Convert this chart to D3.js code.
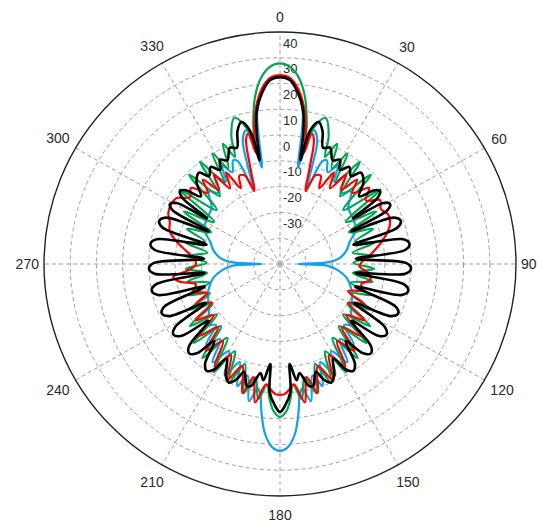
<!DOCTYPE html>
<html><head><meta charset="utf-8">
<script src="https://cdn.jsdelivr.net/npm/d3@7"></script>
<style>body{margin:0;background:#fff}svg{display:block}</style>
</head><body>
<svg id="chart" width="542" height="523"></svg>
<script>
const angleTicks = [0,30,60,90,120,150,180,210,240,270,300,330];
const ringValues = [-40,-30,-20,-10,0,10,20,30];
const ringLabels = [40,30,20,10,0,-10,-20,-30];
const radialDomain = [-50,40];

const blackPattern = [[0,22.5],[3,21.5],[6,16.5],[8.5,10],[10,1],[11,-9],[12.5,3],[15,7],[17.5,4],[20,-2],[23,-1],[26.5,-5],[29.5,-3.5],[32,-7],[35,-4],[38.5,-6.5],[41,-3],[45,-5],[49,-10],[51.5,-4],[53.5,-2.5],[55.5,-5],[57.5,-17],[59,-4],[61,-2],[63,-4],[65,-20],[67.5,-3],[70,-1],[72.5,-3],[75,-21],[78.5,-2],[81,0],[83.5,-2],[86,-21],[89.5,-2],[92,0],[94.5,-2],[97,-21],[99.5,-2],[102,0],[104.5,-2],[107,-20],[110.5,-3],[113,-1],[115.5,-3],[118,-18],[121.5,-3],[124,-1],[126.5,-3],[129,-15],[132.5,-3],[135,-1],[137.5,-3],[140,-11],[143.5,-2],[146,0],[148.5,-2],[151,-8],[154.5,-2],[157,0],[159.5,-2],[162,-6],[165,-1],[167,-1.5],[170,-7],[172,-4.5],[174.5,-11],[175.5,0],[178,5],[180,7.4],[182,5],[184.5,0],[185.5,-11],[188,-4.5],[190,-7],[193,-1.5],[195,-1],[198,-6],[200.5,-2],[203,0],[205.5,-2],[209,-8],[211.5,-2],[214,0],[216.5,-2],[220,-11],[222.5,-3],[225,-1],[227.5,-3],[231,-15],[233.5,-3],[236,-1],[238.5,-3],[242,-18],[244.5,-3],[247,-1],[249.5,-3],[253,-20],[255.5,-2],[258,0],[260.5,-2],[263,-21],[265.5,-2],[268,0],[270.5,-2],[274,-21],[276.5,-2],[279,0],[281.5,-2],[285,-21],[287.5,-3],[290,-1],[292.5,-3],[295,-20],[297,-4],[299,-2],[301,-4],[302.5,-17],[304.5,-5],[306.5,-2.5],[308.5,-4],[311,-10],[315,-5],[319,-3],[321.5,-6.5],[325,-4],[328,-7],[330.5,-3.5],[333.5,-5],[337,-1],[340,-2],[342.5,4],[345,7],[347.5,3],[349,-9],[350,1],[351.5,10],[354,16.5],[357,21.5]];

const bluePattern = [[0,23],[3,22],[6,17],[8.5,9],[10.5,-12],[12,0],[14,3.5],[16.5,0],[19.5,-18],[22,-7],[24,-6],[27,-10],[30,-6],[33,-12],[36,-8],[40,-14],[44,-11],[50,-16],[57,-17],[65,-18],[72,-22],[78,-24],[84,-27],[88,-32],[90,-43],[92,-32],[96,-28],[102,-24],[110,-21],[118,-19],[125,-17],[130,-13],[134,-16],[138,-8],[142,-13],[146,-4],[150,-11],[154,-2],[158,-9],[161,0],[164,-5],[167.5,4.5],[170,-1],[171.5,1],[173,8],[175,16],[177.5,21],[180,22.5],[182.5,21],[185,16],[187,8],[188.5,1],[190,-1],[192.5,4.5],[196,-5],[199,0],[202,-9],[206,-2],[210,-11],[214,-4],[218,-13],[222,-8],[226,-16],[230,-13],[235,-17],[242,-19],[250,-21],[258,-24],[264,-28],[268,-32],[270,-43],[272,-32],[276,-27],[282,-24],[288,-22],[295,-18],[303,-17],[310,-16],[316,-11],[320,-14],[324,-8],[327,-12],[330,-6],[333,-10],[336,-6],[338,-7],[340.5,-18],[343.5,0],[346,3.5],[348,0],[349.5,-12],[351.5,9],[354,17],[357,22]];

const redPattern = [[0,23.3],[3,22.3],[6,18],[9,10],[11,1],[12,-6],[13.5,2],[15,0],[17,-12],[19,-20],[21.5,-13],[24.5,-12.5],[27,-17],[30,-9],[33,-15],[36,-7],[39,-13],[42,-6],[45,-11],[49,-5],[53,-9],[57,-4.5],[61,-6],[65,-4.5],[69,-5],[73,-7],[77,-10],[81,-13],[85,-16],[89,-19],[92,-19.5],[96,-16],[100,-15],[104,-18],[108,-17],[112,-22],[116,-14],[120,-20],[124,-11],[128,-18],[132,-8],[136,-16],[140,-6],[144,-13],[148,-3],[152,-10],[156,-1],[160,-8],[164,2],[167,-5],[170,4.5],[173.5,-3],[175.5,-1.5],[178,0.5],[180,0.8],[182,0.5],[184.5,-1.5],[186.5,-3],[190,4.5],[193,-5],[196,2],[200,-8],[204,-1],[208,-10],[212,-3],[216,-13],[220,-6],[224,-16],[228,-8],[232,-18],[236,-11],[240,-20],[244,-14],[248,-20],[252,-15],[256,-17],[260,-11],[263,-9],[266,-15],[270,-18],[274,-17],[278,-14],[282,-10],[287,-6],[291,-5],[295,-3],[299,-2.5],[303,-3],[307,-7],[311,-5],[315,-11],[318,-6],[321,-13],[324,-7],[327,-15],[330,-9],[333,-17],[335.5,-12.5],[338.5,-13],[341,-20],[343,-12],[345,0],[346.5,2],[348,-6],[349,1],[351,10],[354,18],[357,22.3]];

const greenPattern = [[0,27.8],[3,26.5],[6,22],[8.5,15],[10.5,6],[12,-2],[13.5,4],[17,9.3],[20.5,3],[22.5,-5],[25,1.5],[28,-8],[31,0],[34,-12],[37.5,0],[41,-15],[45,-1],[49,-18],[53,-2],[57,-20],[61,-8],[65,-21],[69,-12],[73,-20],[77,-13],[81,-22],[85,-14],[89,-22],[93,-14],[97,-22],[101,-14],[105,-22],[109,-13],[113,-21],[117,-11],[121,-20],[125,-8],[129,-19],[133,-5],[137,-17],[141,-3],[145,-15],[149,-1],[153,-12],[157,0],[161,-9],[164.5,2],[168,-5],[171,3],[174,-3],[175.5,2],[177.5,7],[180,9.3],[182.5,7],[184.5,2],[186,-3],[189,3],[192,-5],[195.5,2],[199,-9],[203,0],[207,-12],[211,-1],[215,-15],[219,-3],[223,-17],[227,-5],[231,-19],[235,-8],[239,-20],[243,-11],[247,-21],[251,-13],[255,-22],[259,-14],[263,-22],[267,-14],[271,-22],[275,-14],[279,-22],[283,-13],[287,-20],[291,-12],[295,-21],[299,-8],[303,-20],[307,-2],[311,-18],[315,-1],[319,-15],[322.5,0],[326,-12],[329,0],[332,-8],[335,1.5],[337.5,-5],[339.5,3],[343,9.3],[346.5,4],[348,-2],[349.5,6],[351.5,15],[354,22],[357,26.5]];

const seriesList = [
  {name:"blue", data: bluePattern, color:"#12a2e6", width:2.2},
  {name:"green", data: greenPattern, color:"#00a650", width:2.2},
  {name:"red", data: redPattern, color:"#ff0000", width:2.2},
  {name:"black", data: blackPattern, color:"#000000", width:2.6}
];

const svg = d3.select("#chart");
const cx = 280, cy = 264;
const rX = d3.scaleLinear().domain(radialDomain).range([0,236]);
const rY = d3.scaleLinear().domain(radialDomain).range([0,232]);
const ang = d3.scaleLinear().domain([0,360]).range([0,2*Math.PI]);
const px = (a,v) => cx + rX(v)*Math.sin(ang(a));
const py = (a,v) => cy - rY(v)*Math.cos(ang(a));
const font = "'Liberation Sans', Arial, sans-serif";

const grid = svg.append("g");
grid.selectAll("ellipse.ring").data(ringValues).join("ellipse")
  .attr("cx",cx).attr("cy",cy)
  .attr("rx",d=>rX(d)).attr("ry",d=>rY(d))
  .attr("fill","none").attr("stroke","#a0a0a0").attr("stroke-width",1)
  .attr("stroke-dasharray","4,3");
grid.selectAll("line.spoke").data(angleTicks).join("line")
  .attr("x1",cx).attr("y1",cy)
  .attr("x2",d=>px(d,radialDomain[1])).attr("y2",d=>py(d,radialDomain[1]))
  .attr("stroke","#a0a0a0").attr("stroke-width",1).attr("stroke-dasharray","4,3");
grid.append("ellipse").attr("cx",cx).attr("cy",cy)
  .attr("rx",rX(radialDomain[1])).attr("ry",rY(radialDomain[1]))
  .attr("fill","none").attr("stroke","#222").attr("stroke-width",1.4);

// angle labels
const lab = svg.append("g").attr("font-family",font).attr("font-size",14).attr("fill","#2a2a2a");
angleTicks.forEach(a=>{
  const t = String(a);
  const hw = t.length*3.9, hh = 5.5;
  const s = Math.sin(ang(a)), c = Math.cos(ang(a));
  const off = 5 + Math.abs(s)*hw + Math.abs(c)*(hh+5) + (c < -0.9 ? 3 : 0);
  lab.append("text")
    .attr("x", cx + (rX(radialDomain[1])+off)*s)
    .attr("y", cy - (rY(radialDomain[1])+off)*c)
    .attr("text-anchor","middle").attr("dominant-baseline","central")
    .text(t);
});

// radial labels
const rl = svg.append("g").attr("font-family",font).attr("font-size",13).attr("fill","#2a2a2a");
rl.selectAll("text").data(ringLabels).join("text")
  .attr("x", cx+3).attr("y", d=>cy - rY(d) + 15.5)
  .text(d=>String(d));

// curves
const line = d3.line()
  .x(d=>px(d[0],d[1])).y(d=>py(d[0],d[1]))
  .curve(d3.curveCatmullRomClosed.alpha(0.5));
svg.append("g").selectAll("path").data(seriesList).join("path")
  .attr("d",d=>line(d.data))
  .attr("fill","none").attr("stroke",d=>d.color)
  .attr("stroke-width",d=>d.width).attr("stroke-linejoin","round");
</script>
</body></html>
